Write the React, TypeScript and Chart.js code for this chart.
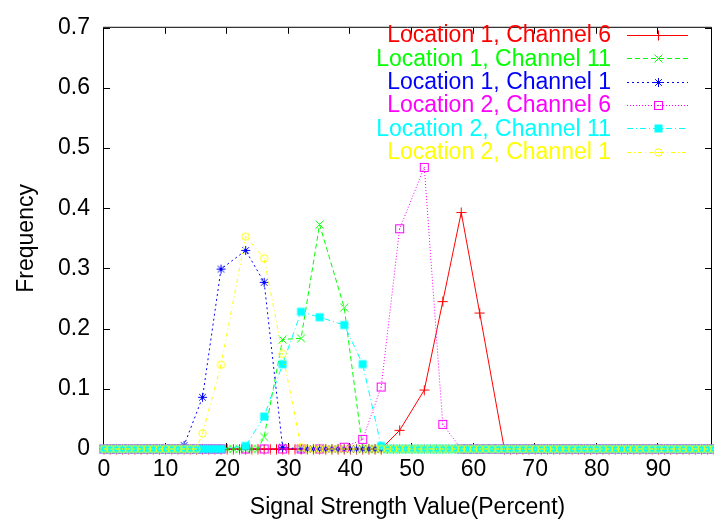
import React, { useEffect, useRef } from 'react';
import { Chart, registerables } from 'chart.js';

Chart.register(...registerables);

// Signal strength levels (percent) on the x axis
const SIGNAL_LEVELS = [
  0, 1, 2, 3, 4, 5, 6, 7, 8, 9, 10, 11, 12, 13, 14, 15, 16, 17, 18, 19,
  20, 21, 22, 23, 24, 25, 26, 27, 28, 29, 30, 31, 32, 33, 34, 35, 36, 37, 38, 39,
  40, 41, 42, 43, 44, 45, 46, 47, 48, 49, 50, 51, 52, 53, 54, 55, 56, 57, 58, 59,
  60, 61, 62, 63, 64, 65, 66, 67, 68, 69, 70, 71, 72, 73, 74, 75, 76, 77, 78, 79,
  80, 81, 82, 83, 84, 85, 86, 87, 88, 89, 90, 91, 92, 93, 94, 95, 96, 97, 98, 99,
];

const SERIES_NAMES = [
  'Location 1, Channel 6',
  'Location 1, Channel 11',
  'Location 1, Channel 1',
  'Location 2, Channel 6',
  'Location 2, Channel 11',
  'Location 2, Channel 1',
];
const SERIES_COLORS = ['#ff0000', '#00ff00', '#0000ff', '#ff00ff', '#00ffff', '#ffff00'];

// Non-zero part of each histogram (x = signal value, y = frequency)
const L1C6_X = [45, 48, 52, 55, 58, 61, 65];
const L1C6_Y = [0, 0.031, 0.098, 0.245, 0.393, 0.226, 0];
const L1C11_X = [26, 29, 32, 35, 39, 42];
const L1C11_Y = [0.02, 0.182, 0.184, 0.373, 0.235, 0];
const L1C1_X = [13, 16, 19, 23, 26, 29, 32];
const L1C1_Y = [0.006, 0.086, 0.299, 0.33, 0.277, 0.003, 0];
const L2C6_X = [23, 26, 29, 32, 35, 39, 42, 45, 48, 52, 55, 58];
const L2C6_Y = [0, 0, 0, 0, 0, 0.003, 0.016, 0.103, 0.366, 0.468, 0.041, 0];
const L2C11_X = [23, 26, 29, 32, 35, 39, 42, 45];
const L2C11_Y = [0.005, 0.054, 0.141, 0.228, 0.219, 0.206, 0.141, 0.005];
const L2C1_X = [16, 19, 23, 26, 29, 32];
const L2C1_Y = [0.026, 0.14, 0.353, 0.317, 0.158, 0.003];

// Zero-frequency levels: every level up to ZERO_UNTIL and from ZERO_FROM on
const ZERO_UNTIL = [44, 25, 12, 19, 19, 15];
const ZERO_FROM = [66, 43, 33, 59, 46, 33];

const SPAN_X = [L1C6_X, L1C11_X, L1C1_X, L2C6_X, L2C11_X, L2C1_X];
const SPAN_Y = [L1C6_Y, L1C11_Y, L1C1_Y, L2C6_Y, L2C11_Y, L2C1_Y];

const X_TICKS = [0, 10, 20, 30, 40, 50, 60, 70, 80, 90];
const Y_TICKS = [0, 0.1, 0.2, 0.3, 0.4, 0.5, 0.6, 0.7];

const DASHES: number[][] = [[], [5, 3], [2, 3], [1, 2], [6, 3, 1, 3], [4, 3, 1, 3]];
const MARKERS = ['plus', 'x', 'star', 'box', 'fbox', 'circle'];

const FONT = '"Liberation Sans", Arial, Helvetica, sans-serif';
const TICK_FONT_SIZE = 23;
const LEGEND_FONT_SIZE = 23;

function makeMarker(kind: string, color: string): HTMLCanvasElement {
  const c = document.createElement('canvas');
  c.width = 11;
  c.height = 11;
  const g = c.getContext('2d')!;
  g.strokeStyle = color;
  g.fillStyle = color;
  g.lineWidth = 1;
  const m = 5.5;
  g.beginPath();
  if (kind === 'plus') {
    g.moveTo(0.5, m); g.lineTo(10.5, m);
    g.moveTo(m, 0.5); g.lineTo(m, 10.5);
    g.stroke();
  } else if (kind === 'x') {
    g.moveTo(1.5, 1.5); g.lineTo(9.5, 9.5);
    g.moveTo(9.5, 1.5); g.lineTo(1.5, 9.5);
    g.stroke();
  } else if (kind === 'star') {
    g.moveTo(1, m); g.lineTo(10, m);
    g.moveTo(m, 1); g.lineTo(m, 10);
    g.moveTo(2.2, 2.2); g.lineTo(8.8, 8.8);
    g.moveTo(8.8, 2.2); g.lineTo(2.2, 8.8);
    g.stroke();
  } else if (kind === 'box') {
    g.strokeRect(1.5, 1.5, 8, 8);
    g.fillRect(5, 5, 1, 1);
  } else if (kind === 'fbox') {
    g.fillRect(1.5, 1.5, 8, 8);
  } else if (kind === 'circle') {
    g.arc(m, m, 3.7, 0, Math.PI * 2);
    g.stroke();
    g.fillRect(5, 5, 1, 1);
  }
  return c;
}

function buildSeries(i: number) {
  const pts: { x: number; y: number }[] = [];
  SIGNAL_LEVELS.forEach((lv) => {
    if (lv <= ZERO_UNTIL[i]) pts.push({ x: lv, y: 0 });
  });
  SPAN_X[i].forEach((x, k) => pts.push({ x, y: SPAN_Y[i][k] }));
  SIGNAL_LEVELS.forEach((lv) => {
    if (lv >= ZERO_FROM[i]) pts.push({ x: lv, y: 0 });
  });
  return pts;
}

export default function App() {
  const ref = useRef<HTMLCanvasElement | null>(null);

  useEffect(() => {
    if (!ref.current) return;
    const markers = SERIES_COLORS.map((c, i) => makeMarker(MARKERS[i], c));

    const gnuplotPlugin = {
      id: 'gnuplotDecor',
      beforeDatasetsDraw(chart: any) {
        const { ctx, chartArea: a } = chart;
        const xs = chart.scales.x;
        const ys = chart.scales.y;
        ctx.save();
        // frame
        ctx.strokeStyle = '#000';
        ctx.lineWidth = 1;
        ctx.setLineDash([]);
        ctx.beginPath();
        ctx.moveTo(a.left - 0.5, a.bottom + 0.5);
        ctx.lineTo(a.left - 0.5, a.top - 0.5);
        ctx.lineTo(a.right + 0.5, a.top - 0.5);
        ctx.lineTo(a.right + 0.5, a.bottom + 0.5);
        ctx.lineTo(a.left - 0.5, a.bottom + 0.5);
        ctx.stroke();
        // inward ticks
        ctx.beginPath();
        X_TICKS.forEach((v) => {
          const px = Math.round(xs.getPixelForValue(v)) - 0.5;
          ctx.moveTo(px, a.bottom);
          ctx.lineTo(px, a.bottom - 6);
          ctx.moveTo(px, a.top);
          ctx.lineTo(px, a.top + 6);
        });
        Y_TICKS.forEach((v) => {
          const py = Math.round(ys.getPixelForValue(v)) + 0.5;
          ctx.moveTo(a.left, py);
          ctx.lineTo(a.left + 6, py);
          ctx.moveTo(a.right, py);
          ctx.lineTo(a.right - 6, py);
        });
        ctx.stroke();

        // axis titles
        ctx.fillStyle = '#000';
        ctx.font = `${TICK_FONT_SIZE}px ${FONT}`;
        ctx.textAlign = 'center';
        ctx.textBaseline = 'middle';
        ctx.fillText('Signal Strength Value(Percent)', (a.left + a.right) / 2, 508);
        ctx.save();
        ctx.translate(27, (a.top + a.bottom) / 2);
        ctx.rotate(-Math.PI / 2);
        ctx.fillText('Frequency', 0, 0);
        ctx.restore();

        // key
        ctx.font = `${LEGEND_FONT_SIZE}px ${FONT}`;
        ctx.textAlign = 'right';
        SERIES_NAMES.forEach((name, i) => {
          const y = 35 + i * 23.3;
          ctx.fillStyle = SERIES_COLORS[i];
          ctx.fillText(name, 611, y + 1);
          const ly = Math.round(y) + 0.5;
          ctx.strokeStyle = SERIES_COLORS[i];
          ctx.setLineDash(DASHES[i]);
          ctx.beginPath();
          ctx.moveTo(627, ly);
          ctx.lineTo(688, ly);
          ctx.stroke();
          ctx.setLineDash([]);
          ctx.drawImage(markers[i], 658 - 5, Math.round(y) - 5);
        });
        ctx.restore();
      },
    };

    const datasets = SERIES_NAMES.map((name, i) => ({
      label: name,
      data: buildSeries(i),
      borderColor: SERIES_COLORS[i],
      backgroundColor: SERIES_COLORS[i],
      borderWidth: 1,
      borderDash: DASHES[i],
      pointStyle: markers[i],
      pointRadius: 4,
      pointHoverRadius: 4,
      fill: false,
      tension: 0,
      clip: false as any,
      order: SERIES_NAMES.length - i,
    }));

    const chart = new Chart(ref.current, {
      type: 'line',
      data: { datasets },
      options: {
        responsive: false,
        animation: false,
        events: [],
        layout: { padding: { top: 18, right: 1, left: 0, bottom: 0 } },
        plugins: {
          legend: { display: false },
          tooltip: { enabled: false },
          title: { display: false },
        },
        scales: {
          x: {
            type: 'linear',
            min: 0,
            max: 98.55,
            grid: { display: false, drawTicks: false },
            border: { display: false },
            ticks: {
              stepSize: 10,
              padding: 7,
              color: '#000',
              autoSkip: false,
              maxRotation: 0,
              font: { family: FONT, size: TICK_FONT_SIZE },
              callback: (v: any) => String(v),
            },
            afterBuildTicks: (s: any) => {
              s.ticks = X_TICKS.map((v) => ({ value: v }));
            },
            afterFit: (s: any) => {
              s.height = 75;
            },
          },
          y: {
            type: 'linear',
            min: 0,
            max: 0.7,
            grid: { display: false, drawTicks: false },
            border: { display: false },
            ticks: {
              stepSize: 0.1,
              padding: 14,
              color: '#000',
              font: { family: FONT, size: TICK_FONT_SIZE },
              callback: (v: any) => {
                const r = Math.round(Number(v) * 10) / 10;
                return r === 0 ? '0' : r.toFixed(1);
              },
            },
            afterBuildTicks: (s: any) => {
              s.ticks = Y_TICKS.map((v) => ({ value: v }));
            },
            afterFit: (s: any) => {
              s.width = 104;
            },
          },
        },
      },
      plugins: [gnuplotPlugin],
    } as any);

    return () => chart.destroy();
  }, []);

  return (
    <div
      style={{
        position: 'fixed',
        left: 0,
        top: 0,
        width: 714,
        height: 524,
        overflow: 'hidden',
        background: '#fff',
      }}
    >
      <canvas ref={ref} width={716} height={524} style={{ display: 'block', width: 716, height: 524 }} />
    </div>
  );
}
